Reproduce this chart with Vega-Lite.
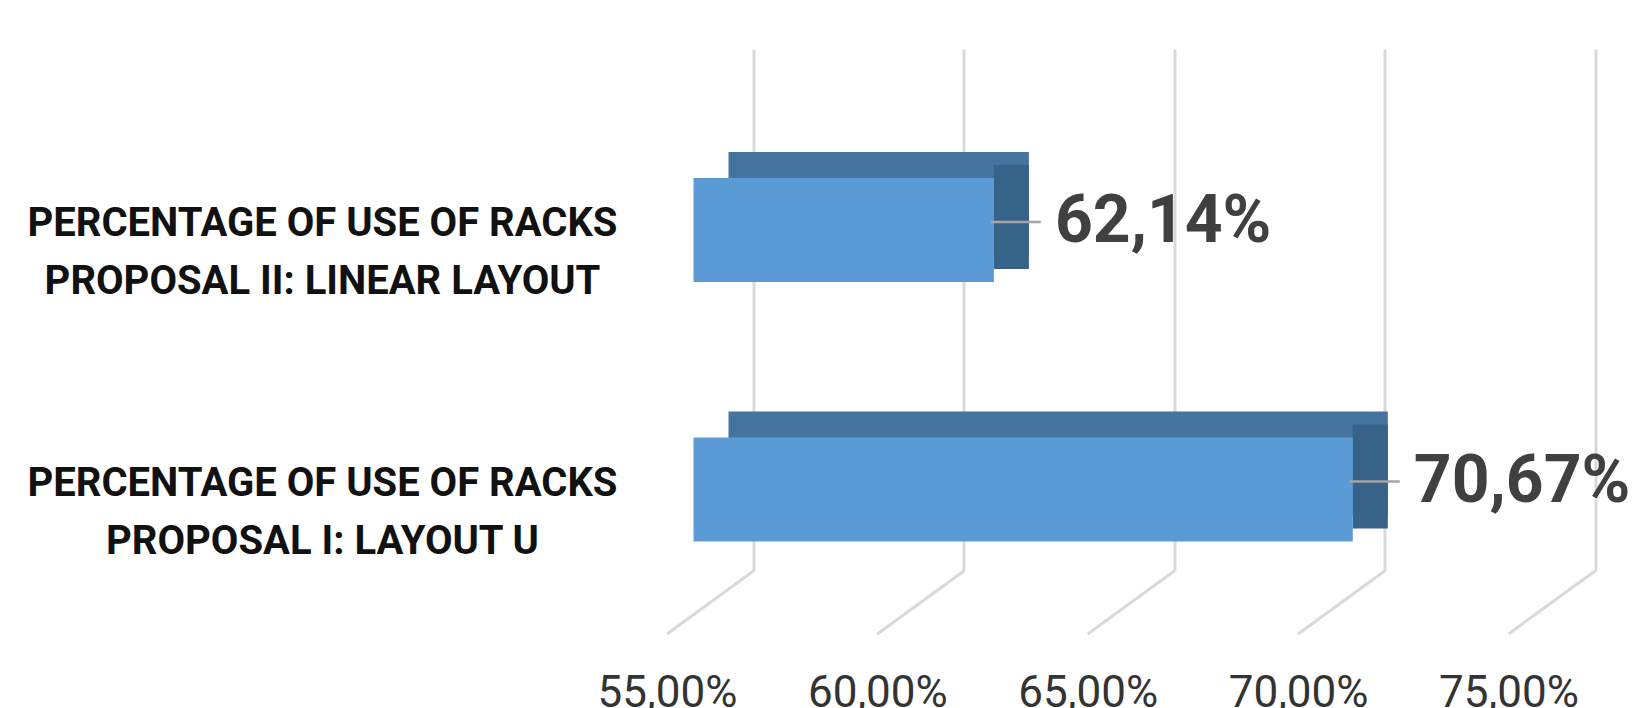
{
  "$schema": "https://vega.github.io/schema/vega-lite/v6.json",
  "width": 841.5,
  "height": 522,
  "autosize": {"type": "none"},
  "padding": {"left": 693.5, "top": 49, "right": 100, "bottom": 137},
  "background": "white",
  "config": {
    "view": {"stroke": null},
    "locale": {"number": {"decimal": ",", "thousands": ".", "grouping": [3], "currency": ["", " €"]}}
  },
  "datasets": {
    "bars": [
      {"category": "PERCENTAGE OF USE OF RACKS PROPOSAL II: LINEAR LAYOUT", "value": 0.6214},
      {"category": "PERCENTAGE OF USE OF RACKS PROPOSAL I: LAYOUT U", "value": 0.7067}
    ],
    "ticks": [{"t": 0.55}, {"t": 0.6}, {"t": 0.65}, {"t": 0.7}, {"t": 0.75}]
  },
  "layer": [
    {
      "data": {"name": "bars"},
      "mark": {"type": "bar", "color": "#4674A1", "xOffset": 35, "x2Offset": 35, "yOffset": -26, "y2Offset": -26},
      "encoding": {
        "x": {
          "field": "value", "type": "quantitative",
          "scale": {"domain": [0.55, 0.75], "zero": false, "nice": false},
          "axis": {
            "title": null, "format": ".2%", "values": [0.55, 0.6, 0.65, 0.7, 0.75],
            "domain": false, "ticks": false, "grid": true, "gridColor": "#D9D9D9", "gridWidth": 3,
            "tickOffset": 60, "labelOffset": -86.5, "labelPadding": 100, "labelOverlap": false, "labelFlush": false,
            "labelFont": "Roboto", "labelFontSize": 44, "labelColor": "#333333", "labelBaseline": "top"
          }
        },
        "x2": {"datum": 0.55},
        "y": {
          "field": "category", "type": "nominal", "sort": null,
          "scale": {"paddingInner": 0.5992, "paddingOuter": 0.3054, "align": 0.814},
          "axis": {
            "title": null, "domain": false, "ticks": false,
            "labelAlign": "center", "labelPadding": 371.5, "labelOffset": -6,
            "labelFont": "Roboto", "labelFontWeight": "bold", "labelFontSize": 40, "labelLineHeight": 58,
            "labelColor": "#111111", "labelLimit": 0,
            "labelExpr": "[slice(datum.label, 0, 26), slice(datum.label, 27)]"
          }
        }
      }
    },
    {
      "data": {"name": "bars"},
      "mark": {"type": "bar", "color": "#386389", "xOffset": 0, "x2Offset": 35, "yOffset": -13, "y2Offset": -13},
      "encoding": {
        "x": {"field": "value", "type": "quantitative"},
        "x2": {"field": "value"},
        "y": {"field": "category", "type": "nominal", "sort": null}
      }
    },
    {
      "data": {"name": "bars"},
      "mark": {"type": "bar", "color": "#5B9BD5"},
      "encoding": {
        "x": {"field": "value", "type": "quantitative"},
        "x2": {"datum": 0.55},
        "y": {"field": "category", "type": "nominal", "sort": null}
      }
    },
    {
      "data": {"name": "ticks"},
      "mark": {"type": "rule", "color": "#D9D9D9", "strokeWidth": 3, "xOffset": 60, "x2Offset": -26.5, "y2Offset": 63},
      "encoding": {
        "x": {"field": "t", "type": "quantitative"},
        "x2": {"field": "t"},
        "y": {"value": "height"},
        "y2": {"value": "height"}
      }
    },
    {
      "data": {"name": "bars"},
      "mark": {"type": "rule", "color": "#A5A5A5", "strokeWidth": 2.5, "xOffset": -3, "x2Offset": 47, "yOffset": -8},
      "encoding": {
        "x": {"field": "value", "type": "quantitative"},
        "x2": {"field": "value"},
        "y": {"field": "category", "type": "nominal", "sort": null}
      }
    },
    {
      "data": {"name": "bars"},
      "mark": {
        "type": "text", "align": "left", "baseline": "middle", "dx": 61, "dy": -8,
        "font": "Roboto", "fontWeight": "bold", "fontSize": 66, "color": "#404040"
      },
      "encoding": {
        "x": {"field": "value", "type": "quantitative"},
        "y": {"field": "category", "type": "nominal", "sort": null},
        "text": {"field": "value", "type": "quantitative", "format": ".2%"}
      }
    }
  ]
}
